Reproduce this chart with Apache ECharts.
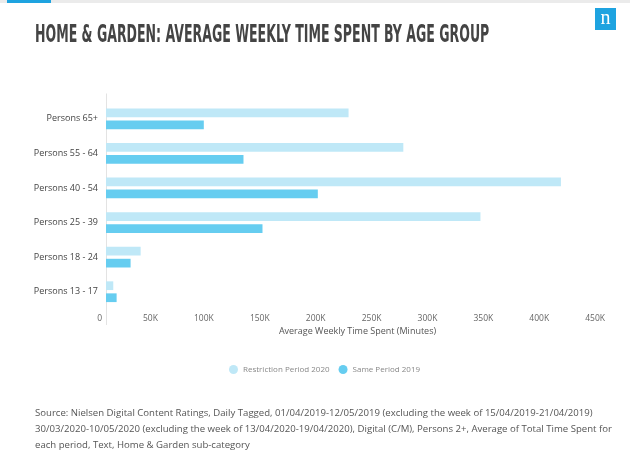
<!DOCTYPE html>
<html>
<head>
<meta charset="utf-8">
<script src="https://cdn.jsdelivr.net/npm/echarts@6/dist/echarts.min.js"></script>
<style>
html,body{margin:0;padding:0;background:#fff;}
#c{width:630px;height:465px;}
</style>
</head>
<body>
<div id="c"></div>
<script>
var categories = ['Persons 65+', 'Persons 55 - 64', 'Persons 40 - 54', 'Persons 25 - 39', 'Persons 18 - 24', 'Persons 13 - 17'];
var restriction2020 = [217000, 266000, 407000, 335000, 31000, 6500];
var same2019 = [87500, 123000, 189500, 140000, 22000, 9500];
var xTicks = [0, 50000, 100000, 150000, 200000, 250000, 300000, 350000, 400000, 450000];
var seriesNames = ['Restriction Period 2020', 'Same Period 2019'];
var titleText = 'HOME & GARDEN: AVERAGE WEEKLY TIME SPENT BY AGE GROUP';
var axisName = 'Average Weekly Time Spent (Minutes)';
var sourceLines = [
  'Source: Nielsen Digital Content Ratings, Daily Tagged, 01/04/2019-12/05/2019 (excluding the week of 15/04/2019-21/04/2019)',
  '30/03/2020-10/05/2020 (excluding the week of 13/04/2020-19/04/2020), Digital (C/M), Persons 2+, Average of Total Time Spent for',
  'each period, Text, Home & Garden sub-category'
];

var LIGHT = '#bfe8f7';
var DARK = '#66cdf0';
var FONT = '"Open Sans", "Noto Sans", sans-serif';

var chart = echarts.init(document.getElementById('c'), null, {renderer: 'canvas'});
chart.setOption({
  backgroundColor: '#ffffff',
  animation: false,
  textStyle: {fontFamily: FONT},
  graphic: [
    {type: 'rect', shape: {x: 0, y: 0, width: 630, height: 3}, style: {fill: '#ebebeb'}},
    {type: 'rect', shape: {x: 7, y: 0, width: 44, height: 3}, style: {fill: '#1ea3e0'}},
    {type: 'rect', shape: {x: 595, y: 8, width: 21, height: 22}, style: {fill: '#1ea3e0'}},
    {type: 'text', x: 605.5, y: 19, style: {text: 'n', fill: '#ffffff', font: '20px "Liberation Serif", "DejaVu Serif", serif', align: 'center', verticalAlign: 'middle'}},
    {type: 'text', x: 35, y: 22.5, scaleX: 0.93, scaleY: 1.7, style: {text: titleText, fill: '#444444', font: 'bold 15px "Liberation Sans Narrow", "DejaVu Sans Condensed", sans-serif', align: 'left', verticalAlign: 'top'}},
    {type: 'text', x: 35, y: 405.5, style: {text: sourceLines.join('\n'), fill: '#555555', font: '9.6px ' + FONT, lineHeight: 16, align: 'left', verticalAlign: 'top'}}
  ],
  legend: {
    data: seriesNames,
    left: 224,
    top: 360,
    icon: 'circle',
    itemWidth: 9,
    itemHeight: 9,
    itemGap: 9,
    textStyle: {color: '#888888', fontSize: 8, fontFamily: FONT}
  },
  grid: {left: 106, right: 21, top: 101.5, bottom: 156, containLabel: false},
  xAxis: [{
    type: 'value',
    position: 'bottom',
    min: 0,
    max: 450000,
    interval: 50000,
    name: axisName,
    nameLocation: 'middle',
    nameGap: 18,
    nameTextStyle: {color: '#555555', fontSize: 9, fontFamily: FONT},
    axisLine: {show: false},
    axisTick: {show: true, customValues: [0], length: 16, lineStyle: {color: '#e3e3e3'}},
    splitLine: {show: false},
    axisLabel: {
      customValues: xTicks,
      color: '#666666',
      fontSize: 8.5,
      margin: 5,
      align: 'right',
      padding: [0, 4, 0, 0],
      formatter: function (v) { return v === 0 ? '0' : (v / 1000) + 'K'; }
    }
  }, {
    type: 'value',
    position: 'top',
    min: 0,
    max: 450000,
    interval: 50000,
    axisLine: {show: false},
    axisTick: {show: true, customValues: [0], length: 8, lineStyle: {color: '#e3e3e3'}},
    axisLabel: {show: false},
    splitLine: {show: false}
  }],
  yAxis: {
    type: 'category',
    data: categories,
    inverse: true,
    axisLine: {show: true, lineStyle: {color: '#e3e3e3'}},
    axisTick: {show: false},
    axisLabel: {color: '#444444', fontSize: 9, margin: 8, fontFamily: FONT}
  },
  series: [
    {name: seriesNames[0], type: 'bar', data: restriction2020, itemStyle: {color: LIGHT}, barCategoryGap: '40%', barGap: '38%'},
    {name: seriesNames[1], type: 'bar', data: same2019, itemStyle: {color: DARK}, barCategoryGap: '40%', barGap: '38%'}
  ]
});
</script>
</body>
</html>
